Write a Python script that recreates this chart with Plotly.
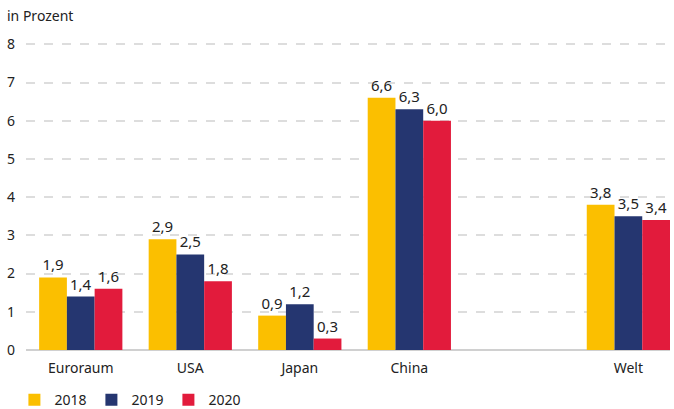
import plotly.graph_objects as go

categories = ["Euroraum", "USA", "Japan", "China", "Welt"]
axis_order = ["Euroraum", "USA", "Japan", "China", " ", "Welt"]
years = ["2018", "2019", "2020"]
v2018 = [1.9, 2.9, 0.9, 6.6, 3.8]
v2019 = [1.4, 2.5, 1.2, 6.3, 3.5]
v2020 = [1.6, 1.8, 0.3, 6.0, 3.4]
y_ticks = [0, 1, 2, 3, 4, 5, 6, 7, 8]
colors = ["#FBBF00", "#253670", "#E21B3C"]

font_family = "Noto Sans"
fig = go.Figure()
for name, vals, col in zip(years, [v2018, v2019, v2020], colors):
    fig.add_trace(go.Bar(
        x=categories, y=vals, name=name, marker_color=col, marker_line_width=0,
        texttemplate="%{y:.1f}", textposition="outside", cliponaxis=False,
        textfont=dict(size=15, color="#222222", family=font_family),
    ))

fig.update_layout(
    width=674, height=409,
    margin=dict(l=26, r=4, t=42, b=59, autoexpand=False),
    paper_bgcolor="white", plot_bgcolor="white",
    separators=",.",
    barmode="group", bargap=0.24, bargroupgap=0,
    font=dict(family=font_family, size=14, color="#222222"),
    showlegend=True,
    legend=dict(orientation="h", x=-0.018, y=-0.163, yanchor="middle", xanchor="left",
                font=dict(size=14), entrywidth=32, itemwidth=30,
                traceorder="normal"),
    xaxis=dict(type="category", categoryorder="array", categoryarray=axis_order,
               range=[-0.5, 5.38], showgrid=False, showline=False, zeroline=False,
               ticks="", ticklabelstandoff=8, tickfont=dict(size=14)),
    yaxis=dict(range=[0, 8.06], tickvals=y_ticks, showgrid=True, gridcolor="#DDDDDD",
               gridwidth=1.5, griddash="dash", zeroline=True, zerolinecolor="#D0D0D0",
               zerolinewidth=2, showline=False, ticks="", ticklabelstandoff=10,
               tickfont=dict(size=14)),
    annotations=[dict(text="in Prozent", xref="paper", yref="paper", x=-0.032, y=1.085,
                      xanchor="left", yanchor="middle", showarrow=False,
                      font=dict(size=14, color="#222222"))],
)
fig.write_html("out.html")
